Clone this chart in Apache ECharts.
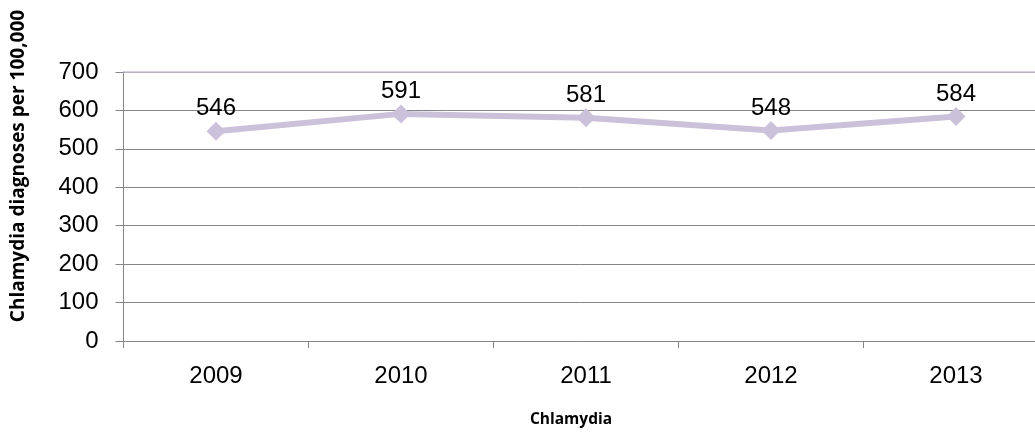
<!DOCTYPE html>
<html>
<head>
<meta charset="utf-8">
<script src="https://cdn.jsdelivr.net/npm/echarts@6/dist/echarts.min.js"></script>
<style>
  html, body { margin: 0; padding: 0; background: #fff; overflow: hidden; }
  #chart { width: 1035px; height: 437px; }
</style>
</head>
<body>
<div id="chart"></div>
<script>
// Chlamydia diagnosis rate per 100,000, by year
const years = ['2009', '2010', '2011', '2012', '2013'];
const rates = [546, 591, 581, 548, 584];
const yTicks = { min: 0, max: 700, interval: 100 };

const lineColor = '#ccc1da';
const gridColor = '#868686';

const chart = echarts.init(document.getElementById('chart'));
chart.setOption({
  backgroundColor: '#ffffff',
  animation: false,
  // the last category runs past the right edge of the canvas
  grid: {
    left: 123.5, width: 925, top: 72, height: 269,
    containLabel: false, outerBoundsMode: 'none'
  },
  xAxis: {
    type: 'category',
    data: years,
    boundaryGap: true,
    axisLine: { lineStyle: { color: gridColor, width: 1 } },
    axisTick: { show: true, length: 7, lineStyle: { color: gridColor } },
    axisLabel: { color: '#000', fontFamily: 'Liberation Sans', fontSize: 24, margin: 23 }
  },
  yAxis: {
    type: 'value',
    min: yTicks.min,
    max: yTicks.max,
    interval: yTicks.interval,
    axisLine: { show: true, lineStyle: { color: gridColor, width: 1 } },
    axisTick: { show: true, inside: false, length: 8, lineStyle: { color: gridColor } },
    splitLine: { show: true, lineStyle: { color: gridColor, width: 1 } },
    axisLabel: { color: '#000', fontFamily: 'Liberation Sans', fontSize: 24, margin: 25 }
  },
  graphic: [
    {
      type: 'text',
      rotation: Math.PI / 2,
      x: 19,
      y: 166,
      style: {
        text: 'Chlamydia diagnoses per 100,000',
        font: 'bold 19px "Open Sans"',
        fill: '#000',
        textAlign: 'center',
        textVerticalAlign: 'middle'
      }
    },
    {
      type: 'text',
      x: 571,
      y: 420,
      style: {
        text: 'Chlamydia',
        font: 'bold 15.5px "Open Sans"',
        fill: '#000',
        textAlign: 'center',
        textVerticalAlign: 'middle'
      }
    }
  ],
  series: [{
    type: 'line',
    data: rates,
    symbol: 'diamond',
    symbolSize: 19,
    lineStyle: { color: lineColor, width: 6 },
    itemStyle: { color: lineColor },
    label: {
      show: true,
      position: 'top',
      distance: 1,
      color: '#000',
      fontFamily: 'Liberation Sans',
      fontSize: 24
    },
    markLine: {
      silent: true,
      symbol: 'none',
      label: { show: false },
      lineStyle: { color: lineColor, width: 1.5, type: 'solid' },
      data: [{ yAxis: yTicks.max }]
    }
  }]
});
</script>
</body>
</html>
